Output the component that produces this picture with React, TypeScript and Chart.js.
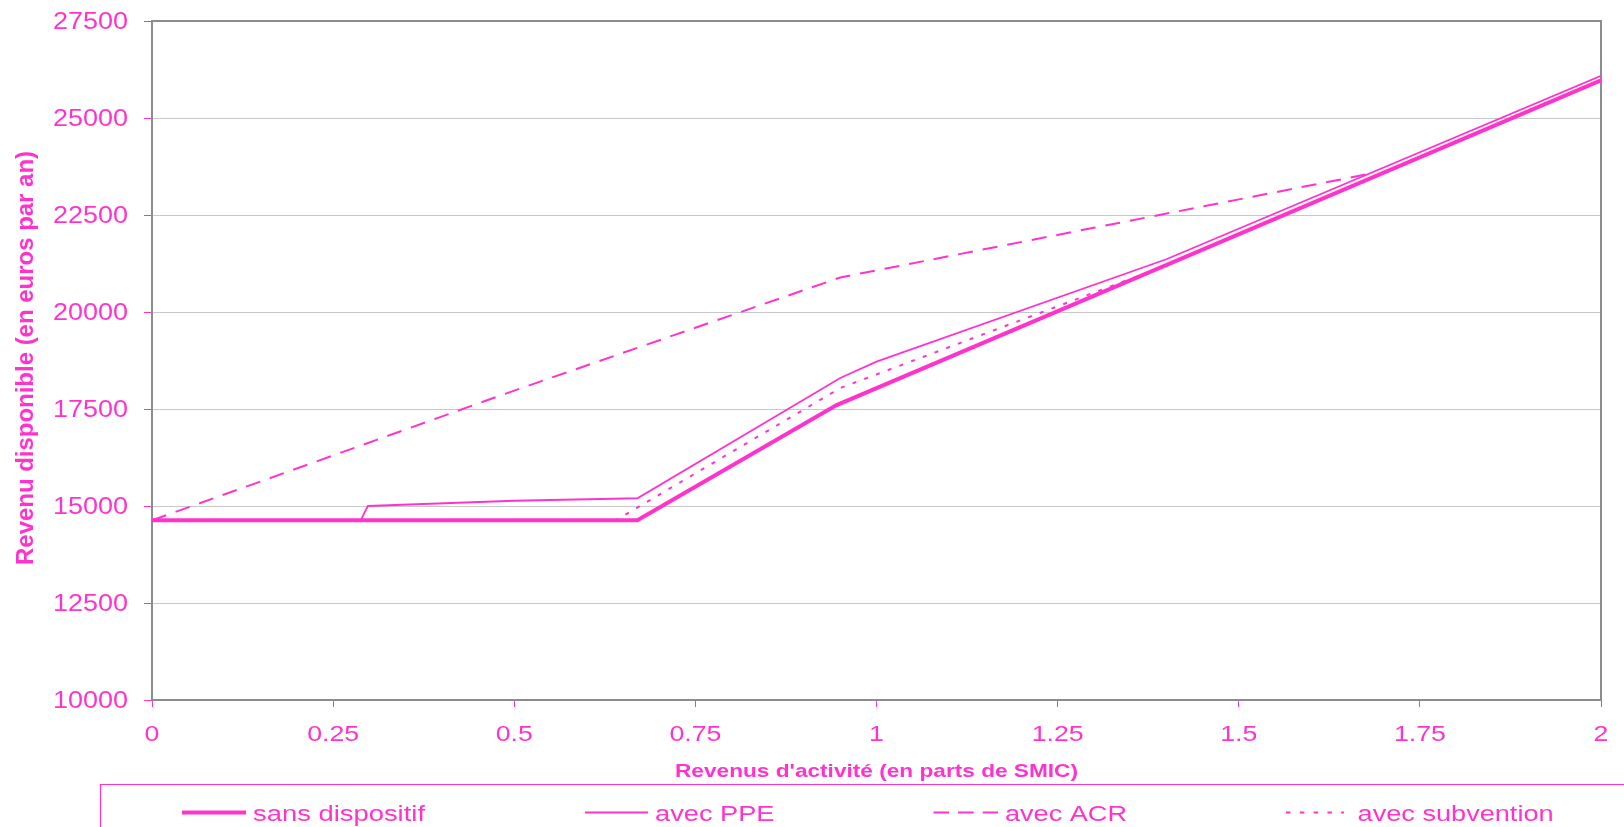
import React, { useEffect, useRef } from "react";
import { Chart, registerables } from "chart.js";
Chart.register(...registerables);

// ---------- data ----------
const SERIES_LABELS = ["sans dispositif", "avec PPE", "avec ACR", "avec subvention"];

const X_SANS = [0, 0.67, 0.945, 2];
const Y_SANS = [14630, 14630, 17600, 25970];

const X_PPE = [0, 0.288, 0.298, 0.5, 0.67, 0.95, 1.0, 1.4, 2];
const Y_PPE = [14630, 14630, 15000, 15135, 15200, 18300, 18720, 21360, 26090];

const X_ACR = [0, 0.5, 0.95, 1.3, 1.68];
const Y_ACR = [14630, 17975, 20890, 22170, 23560];

const X_SUB = [0, 0.64, 0.95, 1.4, 2];
const Y_SUB = [14630, 14630, 18040, 21200, 25970];

const X_TICK_LABELS = ["0", "0.25", "0.5", "0.75", "1", "1.25", "1.5", "1.75", "2"];
const Y_TICK_LABELS = ["10000", "12500", "15000", "17500", "20000", "22500", "25000", "27500"];

const X_TITLE = "Revenus d'activité (en parts de SMIC)";
const Y_TITLE = "Revenu disponible (en euros par an)";

// ---------- style ----------
const PINK = "#ff33cc";
const GRID = "#c8c8c8";
const FRAME = "#8c8c8c";
const FONT = "'Liberation Sans', Arial, Helvetica, sans-serif";

const pts = (xs: number[], ys: number[]) => xs.map((x, i) => ({ x, y: ys[i] }));

function fillFit(
  ctx: CanvasRenderingContext2D,
  text: string,
  x: number,
  y: number,
  font: string,
  sx: number,
  align: CanvasTextAlign
) {
  ctx.save();
  ctx.font = font;
  ctx.translate(x, y);
  ctx.scale(sx, 1);
  ctx.textAlign = align;
  ctx.textBaseline = "alphabetic";
  ctx.fillText(text, 0, 0);
  ctx.restore();
}

function stretchFor(ctx: CanvasRenderingContext2D, text: string, font: string, target: number) {
  ctx.save();
  ctx.font = font;
  const w = ctx.measureText(text).width;
  ctx.restore();
  return w > 0 ? target / w : 1;
}

const framePlugin = {
  id: "frame",
  beforeDatasetsDraw(chart: any) {
    const { ctx, chartArea: a } = chart;
    ctx.save();
    ctx.strokeStyle = FRAME;
    ctx.lineWidth = 2;
    ctx.strokeRect(a.left, a.top, a.right - a.left, a.bottom - a.top);
    ctx.restore();
  },
};

// legend layout (sample start, sample length, text start, text width)
const LEGEND_LAYOUT = [
  { sx: 182, len: 64, tx: 253, tw: 172 },
  { sx: 585, len: 63, tx: 655, tw: 119.5 },
  { sx: 933.5, len: 64.5, tx: 1005, tw: 122 },
  { sx: 1286, len: 58, tx: 1357.6, tw: 196 },
];

const textPlugin = {
  id: "texts",
  afterDraw(chart: any) {
    const ctx: CanvasRenderingContext2D = chart.ctx;
    const xs = chart.scales.x;
    const ys = chart.scales.y;
    ctx.save();
    ctx.fillStyle = PINK;

    // y tick labels
    const yFont = `23px ${FONT}`;
    const ySx = stretchFor(ctx, "27500", yFont, 75);
    ys.ticks.forEach((t: any, i: number) => {
      const py = ys.getPixelForValue(t.value);
      const label = Y_TICK_LABELS[i] ?? String(t.value);
      fillFit(ctx, label, 128, py + 8.2, yFont, ySx, "right");
    });

    // x tick labels
    const xFont = `22px ${FONT}`;
    const xSx = stretchFor(ctx, "0.25", xFont, 52);
    xs.ticks.forEach((t: any, i: number) => {
      const px = xs.getPixelForValue(t.value);
      const label = X_TICK_LABELS[i] ?? String(t.value);
      fillFit(ctx, label, px, 741, xFont, xSx, "center");
    });

    // x title
    const xtFont = `bold 17.7px ${FONT}`;
    const xtSx = stretchFor(ctx, X_TITLE, xtFont, 403);
    fillFit(ctx, X_TITLE, (chart.chartArea.left + chart.chartArea.right) / 2, 776.7, xtFont, xtSx, "center");

    // y title (rotated)
    const ytFont = `bold 23.5px ${FONT}`;
    const ytSx = stretchFor(ctx, Y_TITLE, ytFont, 414);
    ctx.save();
    ctx.translate(33, 358);
    ctx.rotate(-Math.PI / 2);
    fillFit(ctx, Y_TITLE, 0, 0, ytFont, ytSx, "center");
    ctx.restore();

    // legend box
    ctx.strokeStyle = PINK;
    ctx.lineWidth = 1.2;
    ctx.beginPath();
    ctx.moveTo(100.5, 840);
    ctx.lineTo(100.5, 784.5);
    ctx.lineTo(1640, 784.5);
    ctx.stroke();

    const lgFont = `22px ${FONT}`;
    chart.data.datasets.forEach((ds: any, i: number) => {
      const L = LEGEND_LAYOUT[i];
      if (!L) return;
      ctx.save();
      ctx.strokeStyle = ds.borderColor;
      ctx.lineWidth = ds.borderWidth;
      ctx.setLineDash(ds.legendDash || []);
      ctx.beginPath();
      ctx.moveTo(L.sx, 812.5);
      ctx.lineTo(L.sx + L.len, 812.5);
      ctx.stroke();
      ctx.restore();
      const s = stretchFor(ctx, ds.label, lgFont, L.tw);
      fillFit(ctx, ds.label, L.tx, 821, lgFont, s, "left");
    });

    ctx.restore();
  },
};

export default function App() {
  const ref = useRef<HTMLCanvasElement>(null);

  useEffect(() => {
    const canvas = ref.current!;
    const chart = new Chart(canvas, {
      type: "line",
      data: {
        datasets: [
          {
            label: SERIES_LABELS[0],
            data: pts(X_SANS, Y_SANS),
            borderColor: PINK,
            borderWidth: 4,
            pointRadius: 0,
            tension: 0,
            fill: false,
          },
          {
            label: SERIES_LABELS[1],
            data: pts(X_PPE, Y_PPE),
            borderColor: PINK,
            borderWidth: 1.8,
            pointRadius: 0,
            tension: 0,
            fill: false,
          },
          {
            label: SERIES_LABELS[2],
            data: pts(X_ACR, Y_ACR),
            borderColor: PINK,
            borderWidth: 2,
            borderDash: [15, 10],
            legendDash: [15.6, 9],
            pointRadius: 0,
            tension: 0,
            fill: false,
          },
          {
            label: SERIES_LABELS[3],
            data: pts(X_SUB, Y_SUB),
            borderColor: PINK,
            borderWidth: 2,
            borderDash: [4, 8.5],
            legendDash: [4.5, 9.3],
            pointRadius: 0,
            tension: 0,
            fill: false,
          },
        ] as any,
      },
      options: {
        responsive: false,
        animation: false,
        devicePixelRatio: 1,
        layout: { padding: { top: 21, right: 23, left: 0, bottom: 0 } },
        plugins: {
          legend: { display: false },
          tooltip: { enabled: false },
        },
        scales: {
          x: {
            type: "linear",
            min: 0,
            max: 2,
            ticks: { stepSize: 0.25, display: false },
            grid: {
              drawOnChartArea: false,
              drawTicks: true,
              tickLength: 7,
              tickColor: PINK,
              color: PINK,
            },
            border: { display: true, color: FRAME, width: 2 },
            afterFit: (s: any) => {
              s.height = 127;
            },
          },
          y: {
            type: "linear",
            min: 10000,
            max: 27500,
            ticks: { stepSize: 2500, display: false },
            grid: {
              color: GRID,
              lineWidth: 1,
              drawTicks: true,
              tickLength: 8,
              tickColor: PINK,
            },
            border: { display: true, color: FRAME, width: 2 },
            afterFit: (s: any) => {
              s.width = 152;
            },
          },
        },
      } as any,
      plugins: [framePlugin, textPlugin],
    });
    return () => chart.destroy();
  }, []);

  return (
    <div
      style={{
        position: "fixed",
        left: 0,
        top: 0,
        width: 1624,
        height: 827,
        background: "#ffffff",
        overflow: "hidden",
      }}
    >
      <canvas ref={ref} width={1624} height={827} style={{ display: "block", width: 1624, height: 827 }} />
    </div>
  );
}
